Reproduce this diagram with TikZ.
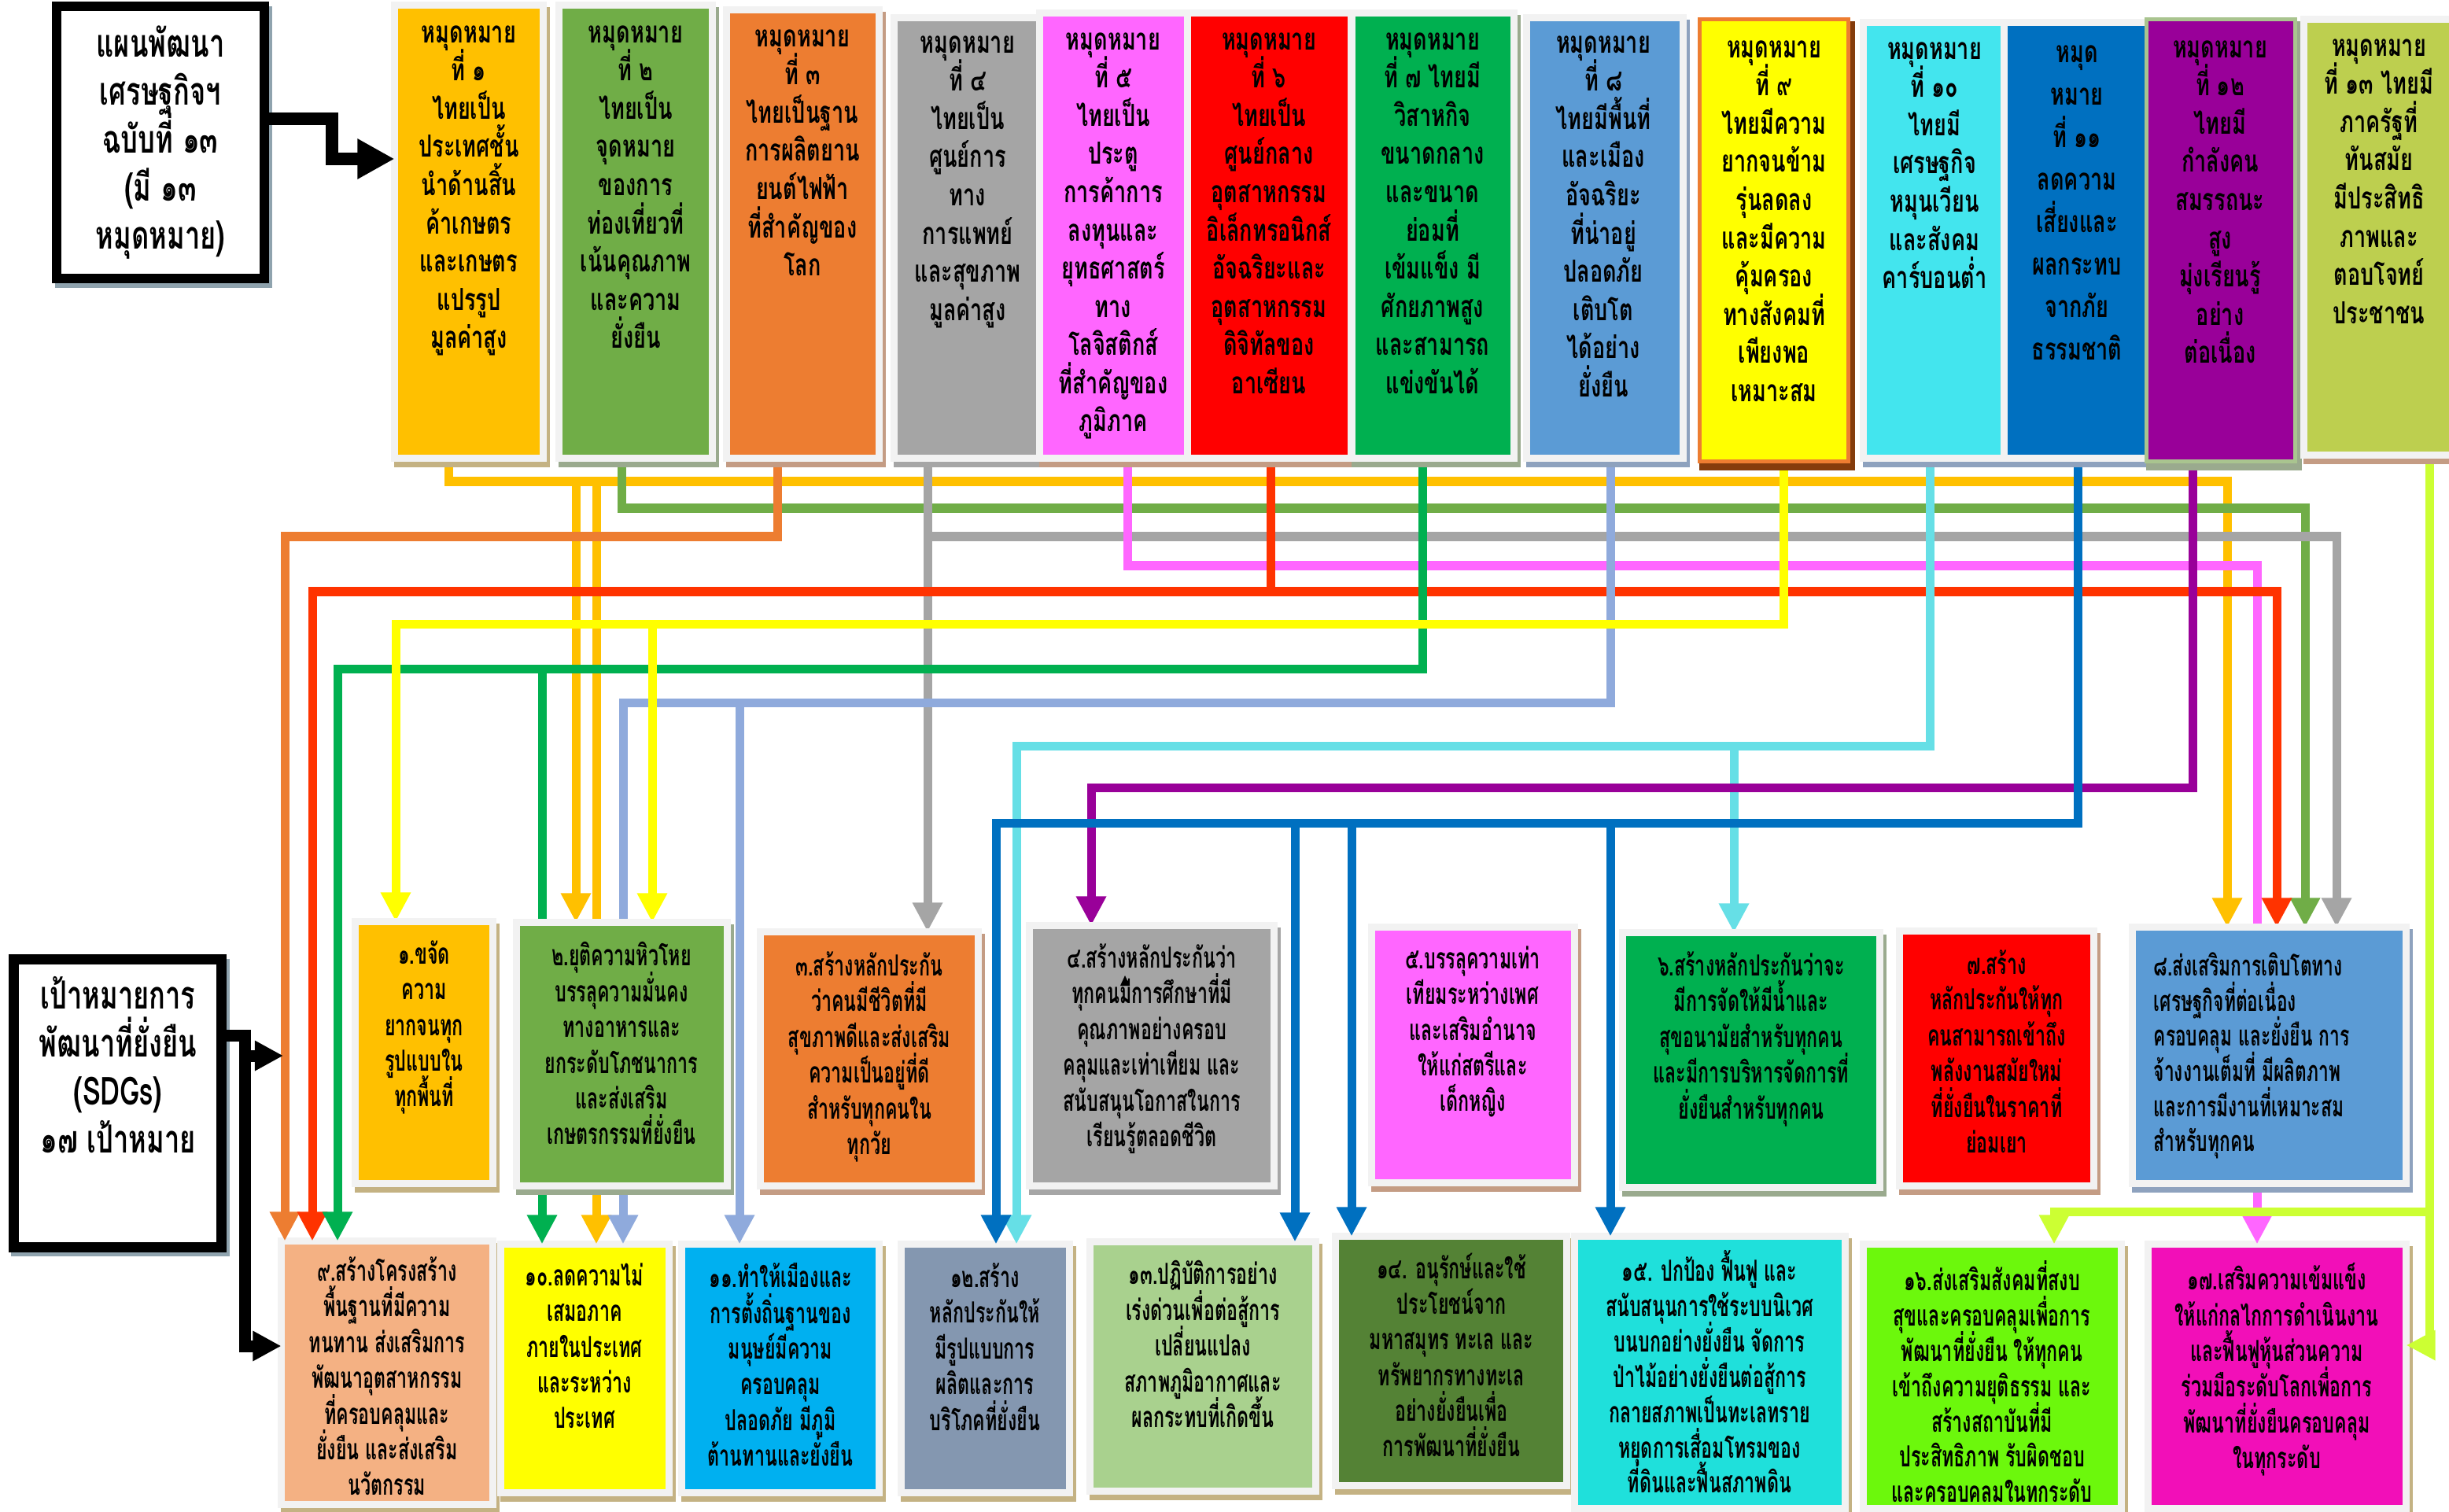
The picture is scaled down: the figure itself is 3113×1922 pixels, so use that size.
\documentclass[tikz,border=0pt]{standalone}
\usepackage{fontspec}
\newfontfamily\thai[Script=Thai,FakeStretch=0.70]{Loma}
\newfontfamily\thais[Script=Thai,FakeStretch=0.63]{Loma}
\usetikzlibrary{arrows.meta}
\setlength{\lineskiplimit}{-40pt}
\definecolor{frw}{HTML}{F2F2F2}
\definecolor{frgreen}{HTML}{A9C48F}
\definecolor{shtan}{HTML}{C4B283}
\definecolor{shgreen}{HTML}{9AAA8E}
\definecolor{shbrown}{HTML}{C49C84}
\definecolor{shgray}{HTML}{A6A6A6}
\definecolor{shblue}{HTML}{8EA2BE}
\definecolor{shdark}{HTML}{843C0C}
\definecolor{shleft}{HTML}{8FA3AE}
\definecolor{cT1}{HTML}{FFC000}
\definecolor{cT2}{HTML}{70AD47}
\definecolor{cT3}{HTML}{ED7D31}
\definecolor{cT4}{HTML}{A5A5A5}
\definecolor{cT5}{HTML}{FF66FF}
\definecolor{cT6}{HTML}{FF0000}
\definecolor{cT7}{HTML}{00B050}
\definecolor{cT8}{HTML}{5B9BD5}
\definecolor{cT9}{HTML}{FFFF00}
\definecolor{cT10}{HTML}{43E5EE}
\definecolor{cT11}{HTML}{0070C0}
\definecolor{cT12}{HTML}{990099}
\definecolor{cT13}{HTML}{BDCF4F}
\definecolor{cB9}{HTML}{F4B183}
\definecolor{cB11}{HTML}{00B0F0}
\definecolor{cB12}{HTML}{8497B0}
\definecolor{cB13}{HTML}{A9D18E}
\definecolor{cB14}{HTML}{548235}
\definecolor{cB15}{HTML}{1FE0DB}
\definecolor{cB16}{HTML}{6CF80C}
\definecolor{cB17}{HTML}{F20FB8}
\definecolor{lgold}{HTML}{FFC000}
\definecolor{llgreen}{HTML}{70AD47}
\definecolor{lorange}{HTML}{ED7D31}
\definecolor{lgray}{HTML}{A5A5A5}
\definecolor{lpink}{HTML}{FF66FF}
\definecolor{lred}{HTML}{FF3300}
\definecolor{lgreen}{HTML}{00B050}
\definecolor{llblue}{HTML}{8FAADC}
\definecolor{lyellow}{HTML}{FFFF00}
\definecolor{lcyan}{HTML}{66DFE6}
\definecolor{lblue}{HTML}{0070C0}
\definecolor{lpurple}{HTML}{990099}
\definecolor{llime}{HTML}{CCFF33}
\newcommand\gbx[8]{%
 \pgfmathsetmacro\bxw{(#4-#2+9)/100}%
 \pgfmathsetmacro\bxh{(#5-#3+9)/100}%
 \pgfmathsetmacro\bxx{(#2+#4)/2}%
 \pgfmathsetmacro\bxy{(#3+#5)/2}%
 \node[gshadow, draw=#8, fill=#8, minimum width=\bxw cm, minimum height=\bxh cm] at (\bxx+4,\bxy+7) {};
 \node[gframe, #7, fill=#6, minimum width=\bxw cm, minimum height=\bxh cm] (#1) at (\bxx,\bxy) {};
}
\begin{document}
\begin{tikzpicture}[x=0.01cm,y=-0.01cm,
  gshadow/.style={rectangle, inner sep=0pt, outer sep=0pt, line width=0.09cm},
  gframe/.style={rectangle, inner sep=0pt, outer sep=0pt, line width=0.09cm},
  conn/.style={line width=0.11cm, -{Triangle[length=0.37cm,width=0.36cm]}},
  ttop/.style={font={\thai\bfseries\fontsize{11pt}{13.8pt}\selectfont}, align=center, anchor=north, inner sep=0pt, execute at begin node={\rule{0pt}{13pt}}},
  tsdg/.style={font={\thais\bfseries\fontsize{10.5pt}{12.9pt}\selectfont}, align=center, anchor=north, inner sep=0pt, execute at begin node={\rule{0pt}{12.5pt}}},
  tleft/.style={font={\thai\bfseries\fontsize{14pt}{17.35pt}\selectfont}, align=center, anchor=north, inner sep=0pt, execute at begin node={\rule{0pt}{16.5pt}}},
  bigarrow/.style={line width=0.16cm, black, -{Triangle[length=0.47cm,width=0.48cm]}},
  smallarrow/.style={line width=0.15cm, black, -{Triangle[length=0.36cm,width=0.36cm]}}]
\useasboundingbox (0,0) rectangle (3113,1922);
\clip (0,0) rectangle (3113,1922);
\fill[white] (0,0) rectangle (3113,1922);

% ---------- boxes placed first (anchors for connectors) ----------
\gbx{T1}{506}{11}{686}{578}{cT1}{draw=frw}{shtan}
\gbx{T2}{715}{11}{901}{578}{cT2}{draw=frw}{shgreen}
\gbx{T3}{928}{17}{1113}{578}{cT3}{draw=frw}{shbrown}
\gbx{T4}{1141}{27}{1318}{578}{cT4}{draw=frw}{shgray}
\gbx{T5}{1326}{21}{1505}{578}{cT5}{draw=frw}{shbrown}
\gbx{T6}{1514}{21}{1713}{578}{cT6}{draw=frw}{shbrown}
\gbx{T7}{1723}{21}{1920}{578}{cT7}{draw=frw}{shgreen}
\gbx{T8}{1945}{27}{2135}{578}{cT8}{draw=frw}{shblue}
\gbx{T9}{2165}{29}{2345}{582}{cT9}{draw=cT3,line width=0.05cm}{shdark}
\gbx{T10}{2373}{33}{2544}{578}{cT10}{draw=frw}{shblue}
\gbx{T11}{2552}{33}{2727}{578}{cT11}{draw=frw}{shblue}
\gbx{T12}{2733}{29}{2913}{582}{cT12}{draw=frgreen,line width=0.05cm}{shgreen}
\gbx{T13}{2933}{29}{3130}{574}{cT13}{draw=frw}{shbrown}

\coordinate (jG1) at (732,612);
\coordinate (jG2) at (758,612);
\coordinate (jGr) at (1179,682);
\coordinate (jR) at (1615,752);
\coordinate (jGn) at (689,850);
\coordinate (jLB) at (940,893);
\coordinate (jY) at (829,793);
\coordinate (jC) at (2204,948);
\coordinate (jB1) at (1646,1046);
\coordinate (jB2) at (1718,1046);
\coordinate (jB3) at (2047,1046);
\coordinate (jL) at (3088,1540);

\gbx{S1}{456}{1176}{622}{1500}{cT1}{draw=frw}{shtan}
\gbx{S2}{661}{1177}{920}{1503}{cT2}{draw=frw}{shgreen}
\gbx{S3}{971}{1189}{1239}{1503}{cT3}{draw=frw}{shbrown}
\gbx{S4}{1313}{1181}{1615}{1503}{cT4}{draw=frw}{shgray}
\gbx{S5}{1748}{1183}{1997}{1499}{cT5}{draw=frw}{shbrown}
\gbx{S6}{2067}{1190}{2385}{1505}{cT7}{draw=frw}{shgreen}
\gbx{S7}{2419}{1188}{2657}{1503}{cT6}{draw=frw}{shbrown}
\gbx{S8}{2715}{1183}{3054}{1500}{cT8}{draw=frw}{shblue}
\gbx{B9}{362}{1582}{622}{1908}{cB9}{draw=frw}{shtan}
\gbx{B10}{641}{1586}{846}{1893}{cT9}{draw=frw}{shtan}
\gbx{B11}{871}{1586}{1113}{1893}{cB11}{draw=frw}{shtan}
\gbx{B12}{1150}{1586}{1355}{1893}{cB12}{draw=frw}{shtan}
\gbx{B13}{1390}{1583}{1668}{1891}{cB13}{draw=frw}{shtan}
\gbx{B14}{1702}{1576}{1987}{1884}{cB14}{draw=frw}{shtan}
\gbx{B15}{2006}{1576}{2341}{1913}{cB15}{draw=frw}{shtan}
\gbx{B16}{2373}{1586}{2692}{1913}{cB16}{draw=frw}{shtan}
\gbx{B17}{2735}{1586}{3054}{1913}{cB17}{draw=frw}{shtan}

% ---------- connectors ----------
\draw[conn, lgold] (T1.south -| 570,0) |- (2831,612) -- (S8.north -| 2831,0);
\draw[conn, lgold] (jG1) -- (S2.north -| jG1);
\draw[conn, lgold] (jG2) -- (B10.north -| jG2);
\draw[conn, llgreen] (T2.south -| 790,0) |- (2930,646) -- (S8.north -| 2930,0);
\draw[conn, lorange] (T3.south -| 988,0) |- (362,682) -- (B9.north -| 362,0);
\draw[conn, lgray] (T4.south -| 1179,0) -- (S3.north -| 1179,0);
\draw[conn, lgray] (jGr) -| (S8.north -| 2970,0);
\draw[conn, lpink] (T5.south -| 1433,0) |- (2869,719) -- (B17.north -| 2869,0);
\draw[conn, lred] (T6.south -| 1615,0) |- (397,752) -- (B9.north -| 397,0);
\draw[conn, lred] (jR) -| (S8.north -| 2894,0);
\draw[conn, lgreen] (T7.south -| 1808,0) |- (429,850) -- (B9.north -| 429,0);
\draw[conn, lgreen] (jGn) -- (B10.north -| jGn);
\draw[conn, llblue] (T8.south -| 2047,0) |- (792,893) -- (B10.north -| 792,0);
\draw[conn, llblue] (jLB) -- (B11.north -| jLB);
\draw[conn, lyellow] (T9.south -| 2267,0) |- (503,793) -- (S1.north -| 503,0);
\draw[conn, lyellow] (jY) -- (S2.north -| jY);
\draw[conn, lcyan] (T10.south -| 2453,0) |- (1292,948) -- (B12.north -| 1292,0);
\draw[conn, lcyan] (jC) -- (S6.north -| jC);
\draw[conn, lpurple] (T12.south -| 2787,0) |- (1387,1001) -- (S4.north -| 1387,0);
\draw[conn, lblue] (T11.south -| 2641,0) |- (1266,1046) -- (B12.north -| 1266,0);
\draw[conn, lblue] (jB1) -- (B13.north -| jB1);
\draw[conn, lblue] (jB2) -- (B14.north -| jB2);
\draw[conn, lblue] (jB3) -- (B15.north -| jB3);
\draw[conn, llime] (T13.south -| 3088,0) -- (3088,1710) -- (B17.east |- 0,1710);
\draw[conn, llime] (jL) -| (B16.north -| 2611,0);

% boxes again on top of connectors
\gbx{S1}{456}{1176}{622}{1500}{cT1}{draw=frw}{shtan}
\gbx{S2}{661}{1177}{920}{1503}{cT2}{draw=frw}{shgreen}
\gbx{S3}{971}{1189}{1239}{1503}{cT3}{draw=frw}{shbrown}
\gbx{S4}{1313}{1181}{1615}{1503}{cT4}{draw=frw}{shgray}
\gbx{S5}{1748}{1183}{1997}{1499}{cT5}{draw=frw}{shbrown}
\gbx{S6}{2067}{1190}{2385}{1505}{cT7}{draw=frw}{shgreen}
\gbx{S7}{2419}{1188}{2657}{1503}{cT6}{draw=frw}{shbrown}
\gbx{S8}{2715}{1183}{3054}{1500}{cT8}{draw=frw}{shblue}
\gbx{T1}{506}{11}{686}{578}{cT1}{draw=frw}{shtan}
\gbx{T2}{715}{11}{901}{578}{cT2}{draw=frw}{shgreen}
\gbx{T3}{928}{17}{1113}{578}{cT3}{draw=frw}{shbrown}
\gbx{T4}{1141}{27}{1318}{578}{cT4}{draw=frw}{shgray}
\gbx{T5}{1326}{21}{1505}{578}{cT5}{draw=frw}{shbrown}
\gbx{T6}{1514}{21}{1713}{578}{cT6}{draw=frw}{shbrown}
\gbx{T7}{1723}{21}{1920}{578}{cT7}{draw=frw}{shgreen}
\gbx{T8}{1945}{27}{2135}{578}{cT8}{draw=frw}{shblue}
\gbx{T9}{2165}{29}{2345}{582}{cT9}{draw=cT3,line width=0.05cm}{shdark}
\gbx{T10}{2373}{33}{2544}{578}{cT10}{draw=frw}{shblue}
\gbx{T11}{2552}{33}{2727}{578}{cT11}{draw=frw}{shblue}
\gbx{T12}{2733}{29}{2913}{582}{cT12}{draw=frgreen,line width=0.05cm}{shgreen}
\gbx{T13}{2933}{29}{3130}{574}{cT13}{draw=frw}{shbrown}

% left boxes
\node[draw=shleft, fill=shleft, line width=0.12cm, minimum width=2.63cm, minimum height=3.465cm, inner sep=0pt] at (208,187) {};
\node[draw=black, fill=white, line width=0.12cm, minimum width=2.63cm, minimum height=3.465cm, inner sep=0pt] (L1) at (204,181) {};
\node[draw=shleft, fill=shleft, line width=0.13cm, minimum width=2.64cm, minimum height=3.65cm, inner sep=0pt] at (153,1408) {};
\node[draw=black, fill=white, line width=0.13cm, minimum width=2.64cm, minimum height=3.65cm, inner sep=0pt] (L2) at (149.5,1402.5) {};
\node[tleft] (L1t) at (204,32) {แผนพัฒนา\\เศรษฐกิจฯ\\ฉบับที่ ๑๓\\(มี ๑๓\\หมุดหมาย)};
\node[tleft] (L2t) at (150,1241) {เป้าหมายการ\\พัฒนาที่ยั่งยืน\\(SDGs)\\๑๗ เป้าหมาย};

% black arrows
\draw[bigarrow, line join=miter] (L1.east |- 0,151) -- (422,151) -- (422,202) -- (T1.west |- 0,202);
\coordinate (L2a) at (360,1342);
\draw[smallarrow, line join=miter] (L2.east |- 0,1316) -- (311,1316) -- (311,1711) -- (B9.west |- 0,1711);
\draw[smallarrow] (311,1342) -- (L2a);

% top texts
\node[ttop] (T1t) at (596,32) {หมุดหมาย\\ที่ ๑\\ไทยเป็น\\ประเทศชั้น\\นำด้านสิ้น\\ค้าเกษตร\\และเกษตร\\แปรรูป\\มูลค่าสูง};
\node[ttop] (T2t) at (808,32) {หมุดหมาย\\ที่ ๒\\ไทยเป็น\\จุดหมาย\\ของการ\\ท่องเที่ยวที่\\เน้นคุณภาพ\\และความ\\ยั่งยืน};
\node[ttop] (T3t) at (1020,37) {หมุดหมาย\\ที่ ๓\\ไทยเป็นฐาน\\การผลิตยาน\\ยนต์ไฟฟ้า\\ที่สำคัญของ\\โลก};
\node[ttop] (T4t) at (1230,45) {หมุดหมาย\\ที่ ๔\\ไทยเป็น\\ศูนย์การ\\ทาง\\การแพทย์\\และสุขภาพ\\มูลค่าสูง};
\node[ttop] (T5t) at (1415,41) {หมุดหมาย\\ที่ ๕\\ไทยเป็น\\ประตู\\การค้าการ\\ลงทุนและ\\ยุทธศาสตร์\\ทาง\\โลจิสติกส์\\ที่สำคัญของ\\ภูมิภาค};
\node[ttop] (T6t) at (1613,41) {หมุดหมาย\\ที่ ๖\\ไทยเป็น\\ศูนย์กลาง\\อุตสาหกรรม\\อิเล็กทรอนิกส์\\อัจฉริยะและ\\อุตสาหกรรม\\ดิจิทัลของ\\อาเซียน};
\node[ttop] (T7t) at (1821,41) {หมุดหมาย\\ที่ ๗ ไทยมี\\วิสาหกิจ\\ขนาดกลาง\\และขนาด\\ย่อมที่\\เข้มแข็ง มี\\ศักยภาพสูง\\และสามารถ\\แข่งขันได้};
\node[ttop] (T8t) at (2038,45) {หมุดหมาย\\ที่ ๘\\ไทยมีพื้นที่\\และเมือง\\อัจฉริยะ\\ที่น่าอยู่\\ปลอดภัย\\เติบโต\\ได้อย่าง\\ยั่งยืน};
\node[ttop] (T9t) at (2255,51) {หมุดหมาย\\ที่ ๙\\ไทยมีความ\\ยากจนข้าม\\รุ่นลดลง\\และมีความ\\คุ้มครอง\\ทางสังคมที่\\เพียงพอ\\เหมาะสม};
\node[ttop] (T10t) at (2459,53) {หมุดหมาย\\ที่ ๑๐\\ไทยมี\\เศรษฐกิจ\\หมุนเวียน\\และสังคม\\คาร์บอนต่ำ};
\node[ttop, font={\thai\bfseries\fontsize{11pt}{15.37pt}\selectfont}] (T11t) at (2640,57) {หมุด\\หมาย\\ที่ ๑๑\\ลดความ\\เสี่ยงและ\\ผลกระทบ\\จากภัย\\ธรรมชาติ};
\node[ttop] (T12t) at (2822,51) {หมุดหมาย\\ที่ ๑๒\\ไทยมี\\กำลังคน\\สมรรถนะ\\สูง\\มุ่งเรียนรู้\\อย่าง\\ต่อเนื่อง};
\node[ttop] (T13t) at (3024,49) {หมุดหมาย\\ที่ ๑๓ ไทยมี\\ภาครัฐที่\\ทันสมัย\\มีประสิทธิ\\ภาพและ\\ตอบโจทย์\\ประชาชน};

% SDG texts
\node[tsdg] (S1t) at (539,1195) {๑.ขจัด\\ความ\\ยากจนทุก\\รูปแบบใน\\ทุกพื้นที่};
\node[tsdg] (S2t) at (790,1197) {๒.ยุติความหิวโหย\\บรรลุความมั่นคง\\ทางอาหารและ\\ยกระดับโภชนาการ\\และส่งเสริม\\เกษตรกรรมที่ยั่งยืน};
\node[tsdg] (S3t) at (1105,1209) {๓.สร้างหลักประกัน\\ว่าคนมีชีวิตที่มี\\สุขภาพดีและส่งเสริม\\ความเป็นอยู่ที่ดี\\สำหรับทุกคนใน\\ทุกวัย};
\node[tsdg] (S4t) at (1464,1199) {๔.สร้างหลักประกันว่า\\ทุกคนมีการศึกษาที่มี\\คุณภาพอย่างครอบ\\คลุมและเท่าเทียม และ\\สนับสนุนโอกาสในการ\\เรียนรู้ตลอดชีวิต};
\fill (1424,1253) -- (1436,1253) -- (1430,1240) -- cycle;
\node[tsdg] (S5t) at (1872,1202) {๕.บรรลุความเท่า\\เทียมระหว่างเพศ\\และเสริมอำนาจ\\ให้แก่สตรีและ\\เด็กหญิง};
\node[tsdg] (S6t) at (2226,1209) {๖.สร้างหลักประกันว่าจะ\\มีการจัดให้มีน้ำและ\\สุขอนามัยสำหรับทุกคน\\และมีการบริหารจัดการที่\\ยั่งยืนสำหรับทุกคน};
\node[tsdg] (S7t) at (2538,1207) {๗.สร้าง\\หลักประกันให้ทุก\\คนสามารถเข้าถึง\\พลังงานสมัยใหม่\\ที่ยั่งยืนในราคาที่\\ย่อมเยา};
\node[tsdg, font={\thais\bfseries\fontsize{10.3pt}{12.7pt}\selectfont}, align=left, anchor=north west] (S8t) at (2737,1210) {๘.ส่งเสริมการเติบโตทาง\\เศรษฐกิจที่ต่อเนื่อง\\ครอบคลุม และยั่งยืน การ\\จ้างงานเต็มที่ มีผลิตภาพ\\และการมีงานที่เหมาะสม\\สำหรับทุกคน};
\node[tsdg] (B9t) at (492,1597) {๙.สร้างโครงสร้าง\\พื้นฐานที่มีความ\\ทนทาน ส่งเสริมการ\\พัฒนาอุตสาหกรรม\\ที่ครอบคลุมและ\\ยั่งยืน และส่งเสริม\\นวัตกรรม};
\node[tsdg] (B10t) at (743,1605) {๑๐.ลดความไม่\\เสมอภาค\\ภายในประเทศ\\และระหว่าง\\ประเทศ};
\node[tsdg] (B11t) at (992,1605) {๑๑.ทำให้เมืองและ\\การตั้งถิ่นฐานของ\\มนุษย์มีความ\\ครอบคลุม\\ปลอดภัย มีภูมิ\\ต้านทานและยั่งยืน};
\node[tsdg] (B12t) at (1252,1605) {๑๒.สร้าง\\หลักประกันให้\\มีรูปแบบการ\\ผลิตและการ\\บริโภคที่ยั่งยืน};
\node[tsdg] (B13t) at (1529,1602) {๑๓.ปฏิบัติการอย่าง\\เร่งด่วนเพื่อต่อสู้การ\\เปลี่ยนแปลง\\สภาพภูมิอากาศและ\\ผลกระทบที่เกิดขึ้น};
\node[tsdg] (B14t) at (1845,1592) {๑๔. อนุรักษ์และใช้\\ประโยชน์จาก\\มหาสมุทร ทะเล และ\\ทรัพยากรทางทะเล\\อย่างยั่งยืนเพื่อ\\การพัฒนาที่ยั่งยืน};
\node[tsdg, font={\thais\bfseries\fontsize{10.5pt}{12.75pt}\selectfont}] (B15t) at (2173,1589) {๑๕. ปกป้อง ฟื้นฟู และ\\สนับสนุนการใช้ระบบนิเวศ\\บนบกอย่างยั่งยืน จัดการ\\ป่าไม้อย่างยั่งยืนต่อสู้การ\\กลายสภาพเป็นทะเลทราย\\หยุดการเสื่อมโทรมของ\\ที่ดินและฟื้นสภาพดิน};
\node[tsdg, font={\thais\bfseries\fontsize{10.5pt}{12.75pt}\selectfont}] (B16t) at (2532,1602) {๑๖.ส่งเสริมสังคมที่สงบ\\สุขและครอบคลุมเพื่อการ\\พัฒนาที่ยั่งยืน ให้ทุกคน\\เข้าถึงความยุติธรรม และ\\สร้างสถาบันที่มี\\ประสิทธิภาพ รับผิดชอบ\\และครอบคลมในทกระดับ};
\node[tsdg] (B17t) at (2894,1605) {๑๗.เสริมความเข้มแข็ง\\ให้แก่กลไกการดำเนินงาน\\และฟื้นฟูหุ้นส่วนความ\\ร่วมมือระดับโลกเพื่อการ\\พัฒนาที่ยั่งยืนครอบคลุม\\ในทุกระดับ};
\end{tikzpicture}
\end{document}
